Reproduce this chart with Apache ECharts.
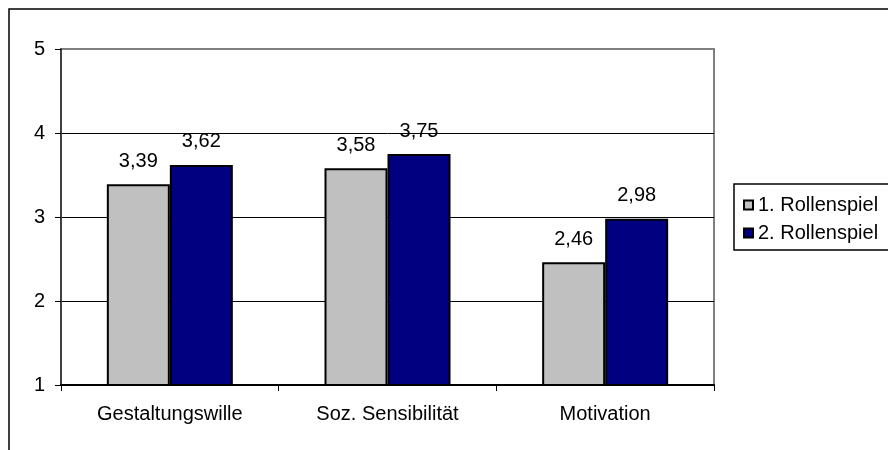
<!DOCTYPE html>
<html>
<head>
<meta charset="utf-8">
<script src="https://cdn.jsdelivr.net/npm/echarts@6/dist/echarts.min.js"></script>
<style>
  html, body { margin: 0; padding: 0; background: #fff; }
  #chart { width: 888px; height: 450px; }
</style>
</head>
<body>
<div id="chart"></div>
<script>
// Kategorien und Mittelwerte je Rollenspiel
const categories = ['Gestaltungswille', 'Soz. Sensibilität', 'Motivation'];
const seriesNames = ['1. Rollenspiel', '2. Rollenspiel'];
const rollenspiel1 = [3.39, 3.58, 2.46];
const rollenspiel2 = [3.62, 3.75, 2.98];
const yTicks = [1, 2, 3, 4, 5];

const FONT = '"Liberation Sans", Arial, sans-serif';
const FS = 20;
const fmt = v => v.toFixed(2).replace('.', ',');

const chart = echarts.init(document.getElementById('chart'), null, { renderer: 'canvas' });

const labelStyle = {
  show: true,
  position: 'top',
  distance: 13,
  color: '#000',
  fontFamily: FONT,
  fontSize: FS,
  formatter: p => fmt(p.value)
};

chart.setOption({
  animation: false,
  backgroundColor: '#fff',
  textStyle: { fontFamily: FONT },
  grid: {
    left: 61, top: 49, right: 174, bottom: 65,
    show: true,
    backgroundColor: '#fff',
    borderColor: '#808080',
    borderWidth: 2
  },
  graphic: [
    {
      type: 'rect', z: 0, silent: true,
      shape: { x: 9, y: 9, width: 1000, height: 1000 },
      style: { fill: 'none', stroke: '#000', lineWidth: 1.5 }
    },
    {
      type: 'rect', z: 0, silent: true,
      shape: { x: 734, y: 184, width: 300, height: 66 },
      style: { fill: 'none', stroke: '#000', lineWidth: 1.5 }
    }
  ],
  legend: {
    orient: 'vertical',
    left: 738,
    top: 190,
    itemWidth: 9,
    itemHeight: 9,
    itemGap: 8,
    icon: 'rect',
    textStyle: { fontFamily: FONT, fontSize: FS, color: '#000' },
    data: seriesNames
  },
  xAxis: {
    type: 'category',
    data: categories,
    axisLine: { lineStyle: { color: '#000', width: 2 } },
    axisTick: { show: true, length: 6, lineStyle: { color: '#000', width: 1 } },
    axisLabel: { color: '#000', fontFamily: FONT, fontSize: FS, margin: 19 },
    splitLine: { show: false }
  },
  yAxis: {
    type: 'value',
    min: yTicks[0],
    max: yTicks[yTicks.length - 1],
    interval: 1,
    axisLine: { show: true, lineStyle: { color: '#404040', width: 2 } },
    axisTick: { show: true, length: 6, lineStyle: { color: '#000', width: 1 } },
    axisLabel: { color: '#000', fontFamily: FONT, fontSize: FS, margin: 16 },
    splitLine: { show: true, lineStyle: { color: ['#000', '#000', '#000', '#000', '#808080'], width: 1 } }
  },
  series: [
    {
      name: seriesNames[0],
      type: 'bar',
      data: rollenspiel1,
      barWidth: 63,
      barGap: '0%',
      itemStyle: { color: '#C0C0C0', borderColor: '#000', borderWidth: 2 },
      label: labelStyle
    },
    {
      name: seriesNames[1],
      type: 'bar',
      data: rollenspiel2,
      barWidth: 63,
      barGap: '0%',
      itemStyle: { color: '#000080', borderColor: '#000', borderWidth: 2 },
      label: labelStyle
    }
  ]
});
</script>
</body>
</html>
